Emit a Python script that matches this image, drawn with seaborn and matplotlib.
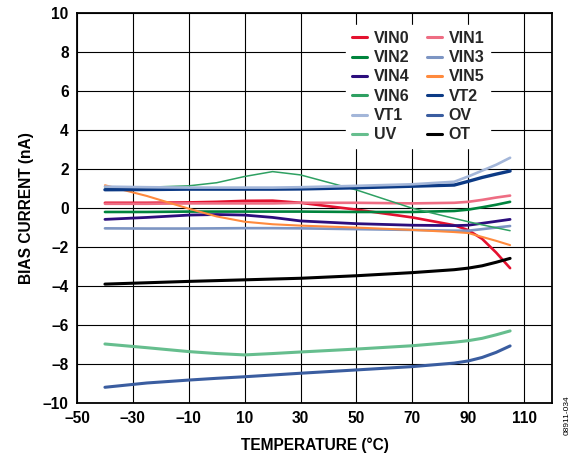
import matplotlib
matplotlib.use("Agg")
import matplotlib.pyplot as plt
import seaborn as sns
import pandas as pd

# temperature sample points (degrees C)
temp = [-40, -25, -10, 0, 10, 20, 30, 50, 70, 85, 90, 95, 100, 105]

vin0 = [0.25, 0.25, 0.27, 0.30, 0.35, 0.36, 0.25, -0.10, -0.50, -0.90, -1.15, -1.60, -2.30, -3.10]
vin1 = [0.20, 0.20, 0.22, 0.22, 0.22, 0.22, 0.25, 0.25, 0.22, 0.25, 0.30, 0.40, 0.52, 0.62]
vin2 = [-0.22, -0.22, -0.20, -0.20, -0.20, -0.20, -0.20, -0.22, -0.22, -0.17, -0.10, 0.02, 0.15, 0.30]
vin3 = [-1.06, -1.07, -1.07, -1.06, -1.05, -1.05, -1.06, -1.10, -1.14, -1.18, -1.18, -1.10, -1.02, -0.94]
vin4 = [-0.60, -0.50, -0.38, -0.35, -0.38, -0.50, -0.68, -0.82, -0.90, -0.92, -0.90, -0.80, -0.70, -0.60]
vin5 = [1.15, 0.60, -0.05, -0.45, -0.72, -0.85, -0.92, -1.02, -1.14, -1.25, -1.30, -1.50, -1.70, -1.92]
vin6 = [1.02, 1.05, 1.12, 1.28, 1.60, 1.85, 1.68, 0.91, -0.03, -0.55, -0.72, -0.88, -1.03, -1.18]
vt2 = [0.92, 0.93, 0.95, 0.95, 0.95, 0.95, 0.96, 1.02, 1.10, 1.16, 1.35, 1.55, 1.72, 1.88]
vt1 = [1.08, 1.05, 1.03, 1.03, 1.03, 1.03, 1.05, 1.12, 1.20, 1.33, 1.60, 1.90, 2.20, 2.56]
ov = [-9.21, -8.99, -8.84, -8.75, -8.67, -8.58, -8.49, -8.32, -8.15, -7.97, -7.86, -7.68, -7.42, -7.09]
uv = [-6.99, -7.18, -7.38, -7.48, -7.55, -7.48, -7.40, -7.25, -7.08, -6.90, -6.82, -6.70, -6.52, -6.32]
ot = [-3.92, -3.85, -3.78, -3.74, -3.70, -3.66, -3.62, -3.49, -3.33, -3.18, -3.10, -2.98, -2.80, -2.60]

x_ticks = [-50, -30, -10, 10, 30, 50, 70, 90, 110]
x_labels = ["–50", "–30", "–10", "10", "30", "50", "70", "90", "110"]
y_ticks = [-10, -8, -6, -4, -2, 0, 2, 4, 6, 8, 10]
y_labels = ["–10", "–8", "–6", "–4", "–2", "0", "2", "4", "6", "8", "10"]

series = {
    "VIN0": (vin0, "#E4112F", 1.9),
    "VIN1": (vin1, "#EE6D83", 1.9),
    "VIN2": (vin2, "#00843D", 1.9),
    "VIN3": (vin3, "#7D95C3", 1.9),
    "VIN4": (vin4, "#2C0E7D", 2.0),
    "VIN5": (vin5, "#FF8A3D", 1.5),
    "VIN6": (vin6, "#2EA062", 1.1),
    "VT2": (vt2, "#0C3A85", 2.4),
    "VT1": (vt1, "#A3B6D9", 1.9),
    "OV": (ov, "#3A5DA0", 2.2),
    "UV": (uv, "#66BE8E", 2.2),
    "OT": (ot, "#000000", 2.2),
}

sns.set_theme(style="white")
plt.rcParams["font.family"] = ["Liberation Sans", "DejaVu Sans"]
plt.rcParams["font.weight"] = "bold"

fig = plt.figure(figsize=(5.86, 4.61), dpi=100)
ax = fig.add_axes([0.1314, 0.1265, 0.8106, 0.846])

handles = {}
for name, (vals, color, lw) in series.items():
    df = pd.DataFrame({"temp": temp, "bias": vals})
    sns.lineplot(data=df, x="temp", y="bias", color=color, linewidth=lw, ax=ax, label=name)
    handles[name] = ax.lines[-1]

ax.set_xlim(-50, 120)
ax.set_ylim(-10, 10)
ax.set_xticks(x_ticks)
ax.set_xticklabels(x_labels, fontsize=11.2, fontweight="bold")
ax.set_yticks(y_ticks)
ax.set_yticklabels(y_labels, fontsize=11.2, fontweight="bold")
ax.tick_params(length=0, pad=6, colors="black")
ax.grid(True, color="black", linewidth=0.8)
ax.set_axisbelow(True)
for s in ax.spines.values():
    s.set_color("black")
    s.set_linewidth(1.3)

ax.set_xlabel("TEMPERATURE (°C)", fontsize=11.2, fontweight="bold", color="black", labelpad=8)
ax.set_ylabel("BIAS CURRENT (nA)", fontsize=11.2, fontweight="bold", color="black", labelpad=6)

order = ["VIN0", "VIN2", "VIN4", "VIN6", "VT1", "UV",
         "VIN1", "VIN3", "VIN5", "VT2", "OV", "OT"]
leg = ax.legend([handles[n] for n in order], order, ncol=2, loc="lower right",
                bbox_to_anchor=(0.869, 0.653), borderaxespad=0.0, frameon=True,
                fancybox=False, framealpha=1.0, edgecolor="white", facecolor="white",
                handlelength=0.95, handletextpad=0.4, columnspacing=1.1,
                labelspacing=0.27, borderpad=0.35,
                prop={"size": 11.5, "weight": "bold"})
for line in leg.get_lines():
    line.set_linewidth(2.2)

fig.text(0.968, 0.1, "08911-034", rotation=90, fontsize=6, fontweight="normal",
         ha="center", va="center", color="black")

fig.savefig("out.png", dpi=100)
